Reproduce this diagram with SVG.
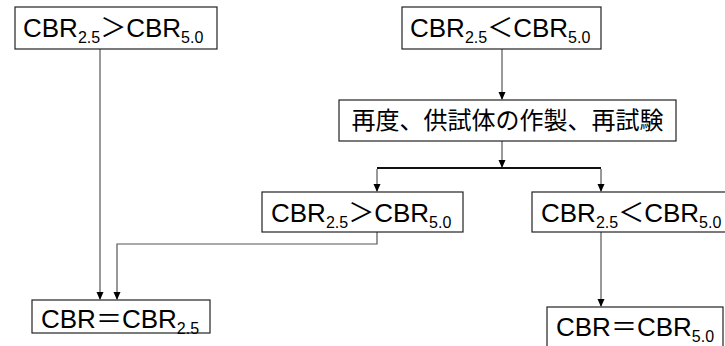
<svg xmlns="http://www.w3.org/2000/svg" width="725" height="346" viewBox="0 0 725 346">
<style>
.box{fill:#fff;stroke:#222;stroke-width:1.2}
.t{font-family:"Liberation Sans","Noto Sans CJK JP",sans-serif;font-size:26px;fill:#000}
.s{font-size:16px}
.j{font-family:"Noto Sans CJK JP",sans-serif;font-size:24px;fill:#000}
.ln{fill:none;stroke:#555;stroke-width:1.2}
.bar{fill:none;stroke:#111;stroke-width:2}
</style>
<defs>
<marker id="ah" markerWidth="8" markerHeight="8" refX="7" refY="4" orient="auto" markerUnits="userSpaceOnUse">
<path d="M0,0.5 L8,4 L0,7.5 Z" fill="#000"/>
</marker>
</defs>
<g id="connectors">
<path class="ln" d="M100,49 V299" marker-end="url(#ah)"/>
<path class="ln" d="M502,49 V99" marker-end="url(#ah)"/>
<path class="ln" d="M502,141 V167" marker-end="url(#ah)"/>
<path class="bar" d="M377,168 H601"/>
<path class="ln" d="M377,169 V191" marker-end="url(#ah)"/>
<path class="ln" d="M601,169 V191" marker-end="url(#ah)"/>
<path class="ln" d="M377,232 V244 H117 V299" marker-end="url(#ah)"/>
<path class="ln" d="M601,232 V306" marker-end="url(#ah)"/>
</g>
<g id="n1">
<rect class="box" x="15" y="7" width="202" height="42"/>
<text class="t" x="23" y="37">CBR<tspan class="s" dy="6">2.5</tspan><tspan dy="-6">＞</tspan>CBR<tspan class="s" dy="6">5.0</tspan></text>
</g>
<g id="n2">
<rect class="box" x="402" y="7" width="199" height="42"/>
<text class="t" x="410" y="37">CBR<tspan class="s" dy="6">2.5</tspan><tspan dy="-6">＜</tspan>CBR<tspan class="s" dy="6">5.0</tspan></text>
</g>
<g id="n3">
<rect class="box" x="339" y="100" width="337" height="41"/>
<text class="j" x="507.5" y="129" text-anchor="middle">再度、供試体の作製、再試験</text>
</g>
<g id="n4">
<rect class="box" x="262" y="192" width="201" height="40"/>
<text class="t" x="271" y="222">CBR<tspan class="s" dy="6">2.5</tspan><tspan dy="-6">＞</tspan>CBR<tspan class="s" dy="6">5.0</tspan></text>
</g>
<g id="n5">
<rect class="box" x="532" y="192" width="200" height="40"/>
<text class="t" x="541" y="222">CBR<tspan class="s" dy="6">2.5</tspan><tspan dy="-6">＜</tspan>CBR<tspan class="s" dy="6">5.0</tspan></text>
</g>
<g id="n6">
<rect class="box" x="32" y="300" width="178" height="33"/>
<text class="t" x="41" y="328">CBR<tspan>＝</tspan>CBR<tspan class="s" dy="6">2.5</tspan></text>
</g>
<g id="n7">
<rect class="box" x="547" y="307" width="176" height="45"/>
<text class="t" x="556" y="336">CBR<tspan>＝</tspan>CBR<tspan class="s" dy="6">5.0</tspan></text>
</g>
</svg>
